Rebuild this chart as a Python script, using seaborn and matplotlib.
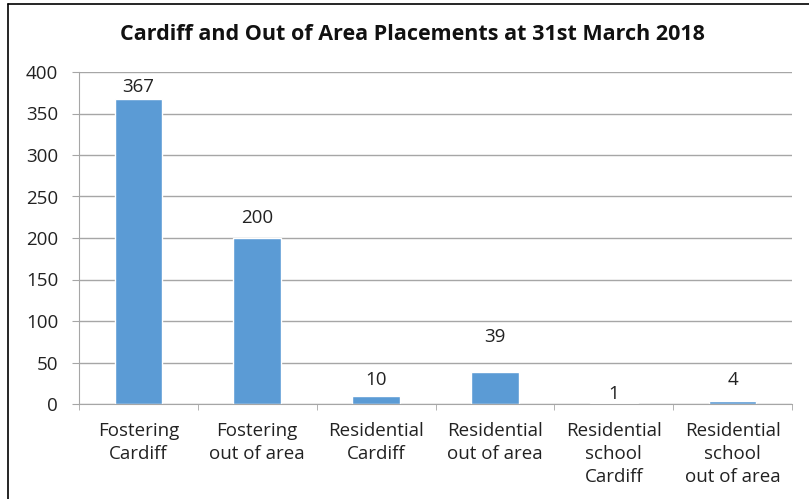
import pandas as pd
import matplotlib.pyplot as plt
import seaborn as sns
from matplotlib.lines import Line2D

categories = ["Fostering\nCardiff", "Fostering\nout of area", "Residential\nCardiff",
              "Residential\nout of area", "Residential\nschool\nCardiff", "Residential\nschool\nout of area"]
placements = [367, 200, 10, 39, 1, 4]
yticks = [0, 50, 100, 150, 200, 250, 300, 350, 400]
# gap between bar top and its label (px), as placed in the original
label_gap = [3, 11, 7, 26, 0, 12]

df = pd.DataFrame({"category": categories, "placements": placements})

sns.set_style("white")
plt.rcParams['font.family'] = ['Open Sans', 'DejaVu Sans']
fs = 13.5

fig = plt.figure(figsize=(8.09, 4.99), dpi=100)
ax = fig.add_axes([79 / 809, 1 - 404 / 499, 713 / 809, 332 / 499])

sns.barplot(x="category", y="placements", data=df, color="#5B9BD5",
            width=0.4, saturation=1, ax=ax)

for i, v in enumerate(placements):
    ax.annotate(str(v), (i, v), xytext=(0, label_gap[i] * 0.72), textcoords="offset points",
                ha="center", va="bottom", fontsize=fs, color="#222222")

ax.set_ylim(0, 400)
ax.set_xlim(-0.5, len(categories) - 0.5)
ax.set_yticks(yticks)
ax.yaxis.grid(True, color="#a6a6a6", linewidth=1)
ax.set_axisbelow(True)
ax.set_xlabel("")
ax.set_ylabel("")
for s in ["top", "right"]:
    ax.spines[s].set_visible(False)
ax.spines["left"].set_color("#a6a6a6")
ax.spines["bottom"].set_color("#a6a6a6")

ax.tick_params(axis="y", left=True, length=5, color="#a6a6a6", labelsize=fs,
               labelcolor="#222222", pad=10)
ax.tick_params(axis="x", bottom=False, labelsize=fs, labelcolor="#222222", pad=9.5)
ax.set_xticks(range(len(categories)))
ax.set_xticklabels(categories, linespacing=1.36)
ax.set_xticks([i + 0.5 for i in range(-1, len(categories))], minor=True)
ax.tick_params(axis="x", which="minor", bottom=True, length=4.5, color="#a6a6a6")

fig.text(0.51, 0.93, "Cardiff and Out of Area Placements at 31st March 2018",
         ha="center", va="center", fontsize=15.5, fontweight="bold", color="#111111")

# outer chart border (left and top visible)
fig.add_artist(Line2D([0.0105, 0.0105], [0, 0.992], color="black", linewidth=1.2))
fig.add_artist(Line2D([0.0105, 1.0], [0.992, 0.992], color="black", linewidth=1.2))

fig.savefig("out.png", dpi=100)
